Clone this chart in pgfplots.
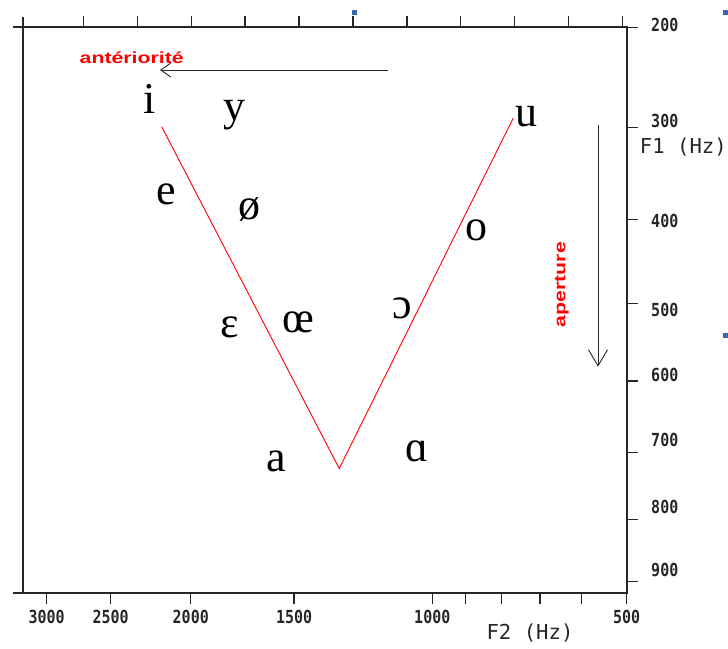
\documentclass[border=0pt]{standalone}
\usepackage{fontspec}
\usepackage{graphicx}
\usepackage{pgfplots}
\usepackage{pgfplotstable}
\pgfplotsset{compat=1.18}
\usetikzlibrary{arrows.meta}

\setmainfont{Liberation Serif}
\newfontfamily\tickfont{DejaVu Sans Mono}
\newfontfamily\vowelfont{Liberation Serif}
\newfontfamily\notefont{Liberation Sans}

\definecolor{framegray}{HTML}{262626}
\definecolor{notered}{HTML}{FF0000}
\definecolor{handleblue}{HTML}{3A66B8}

% tall, narrow tick numbers
\newcommand\tl[1]{\scalebox{1}[1.2]{#1}}

% formant frequencies (Hz) at which each vowel symbol is set
\pgfplotstableread{
F2    F1   v
2240  270  i
1770  287  y
735   289  u
2140  372  e
1700  389  ø
868   413  o
1795  530  ɛ
1480  524  œ
1095  506  ɔ
1575  713  a
1048  698  ɑ
}\vowels

% both formant axes are drawn on the Bark scale (Traunmueller),
% written so that no intermediate value overflows TeX dimensions
\pgfplotsset{
  bark/.style={
    scale only axis, width=604pt, height=565pt,
    x dir=reverse, y dir=reverse,
    xmin=500, xmax=3217, ymin=200, ymax=919,
    x coord trafo/.code={\pgfmathparse{26.81/(1+1960/##1)-0.53}},
    x coord inv trafo/.code={\pgfmathparse{((##1+0.53)/(26.28-##1))*1960}},
    y coord trafo/.code={\pgfmathparse{26.81/(1+1960/##1)-0.53}},
    y coord inv trafo/.code={\pgfmathparse{((##1+0.53)/(26.28-##1))*1960}},
    tick align=outside,
    major tick length=11pt,
    every tick/.style={framegray, line width=1.4pt},
  },
}

\begin{document}
\begin{tikzpicture}
\begin{axis}[bark,
  axis line style={framegray, line width=2pt},
  xtick pos=bottom, ytick pos=right,
  xtick={3000,2500,2000,1500,1000,900,800,700,600,500},
  xticklabels={\tl{3000},\tl{2500},\tl{2000},\tl{1500},\tl{1000},{},{},{},{},\tl{500}},
  ytick={200,300,400,500,600,700,800,900},
  yticklabels={\raisebox{2.5pt}{\tl{200}},\raisebox{7pt}{\tl{300}},\raisebox{-2pt}{\tl{400}},\raisebox{-7pt}{\tl{500}},
               \raisebox{6pt}{\tl{600}},\raisebox{13pt}{\tl{700}},\raisebox{12pt}{\tl{800}},\raisebox{11pt}{\tl{900}}},
  yticklabel pos=right,
  ticklabel style={font=\tickfont\bfseries\fontsize{15}{15}\selectfont, text=framegray},
  xticklabel style={yshift=-3pt},
  yticklabel style={anchor=base west, yshift=-6.5pt, xshift=10pt},
]
  % the vowel triangle's two sides
  \addplot[notered, line width=0.9pt] coordinates {(2168,299) (1319,723) (769,290)};
  % vowel symbols
  \addplot[draw=none, mark=none, nodes near coords, point meta=explicit symbolic,
    every node near coord/.append style={anchor=center, inner sep=0pt,
      font=\vowelfont\fontsize{44}{44}\selectfont, text=black}]
    table[x=F2, y=F1, meta=v] {\vowels};
\end{axis}

% top ticks: whole Bark steps
\begin{axis}[bark,
  axis line style={draw=none},
  xtick pos=top, ytick=\empty,
  xtick={509.35,631.1,765.5,914.6,1080.9,1267.7,1479.0,1719.8,1996.9,2319.1,2698.5},
  xticklabels={},
]
\end{axis}

% frame overshoot at the left corners
\draw[framegray, line width=2pt] (-9.4pt,0) -- (0,0) (-9.4pt,565pt) -- (0,565pt) (0,565pt) -- (0,575.7pt);

% axis titles
\node[font=\tickfont\fontsize{20.6}{20.6}\selectfont, text=framegray] at (507.3pt,-40.5pt) {F2 (Hz)};
\node[font=\tickfont\fontsize{20.6}{20.6}\selectfont, text=framegray] at (660.6pt,445.2pt) {F1 (Hz)};

% direction arrows
\draw[framegray, line width=0.9pt, -{Straight Barb[length=10pt,width=14pt]}] (365.3pt,522.5pt) -- (137.3pt,522.5pt);
\node[text=notered, font=\notefont\bfseries\fontsize{16}{16}\selectfont] at (109pt,535pt) {\scalebox{1.33}[1]{antériorité}};
\draw[framegray, line width=0.9pt, -{Straight Barb[length=16pt,width=19pt]}] (575.3pt,467.5pt) -- (575.3pt,225.8pt);
\node[text=notered, rotate=90, font=\notefont\bfseries\fontsize{16}{16}\selectfont] at (539pt,308pt) {\scalebox{1.33}[1]{aperture}};

% selection handles
\fill[handleblue] (329.3pt,577.5pt) rectangle +(5pt,5pt);
\fill[handleblue] (700.3pt,577pt) rectangle +(5pt,5pt);
\fill[handleblue] (700.3pt,254pt) rectangle +(5pt,5pt);

\pgfresetboundingbox
\path[use as bounding box] (-22.7pt,-55.5pt) rectangle (705.3pt,592.5pt);
\end{tikzpicture}
\end{document}
